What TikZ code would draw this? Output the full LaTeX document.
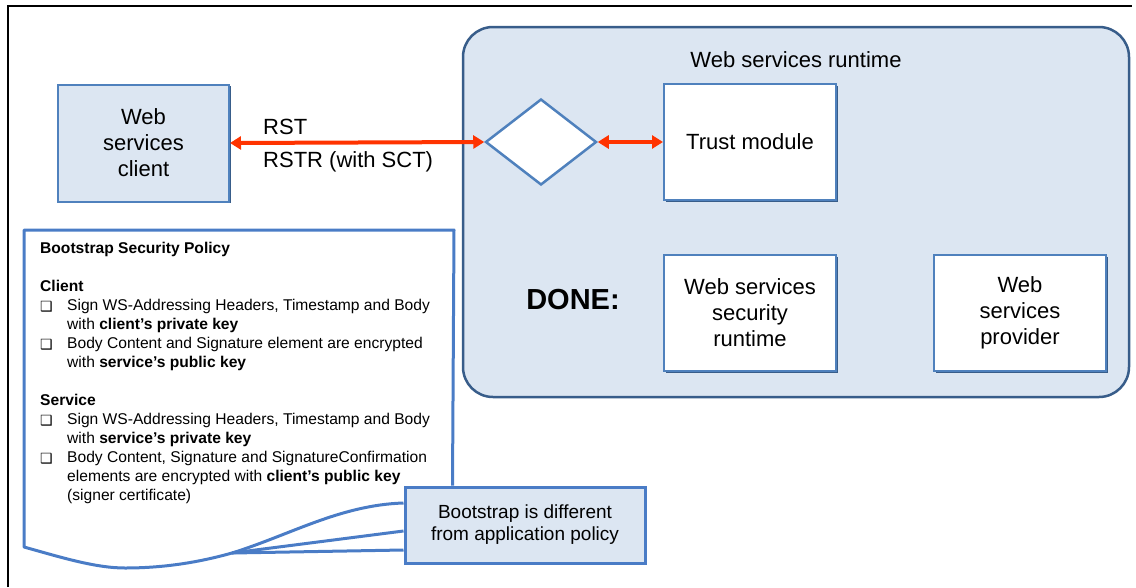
\documentclass[tikz,border=0pt]{standalone}
\usepackage{fontspec}
\setmainfont{Liberation Sans}
\newfontfamily\symfont{DejaVu Sans}
\usetikzlibrary{arrows.meta,shapes.geometric,shadows,backgrounds}

\definecolor{boxfill}{HTML}{DCE6F2}
\definecolor{boxline}{HTML}{4F81BD}
\definecolor{boxshade}{HTML}{385D8A}
\definecolor{polline}{HTML}{4A7CC6}
\definecolor{msgred}{HTML}{FF3300}

\newcommand{\chk}{\makebox[27pt][l]{\raisebox{-0.5pt}{\symfont\fontsize{14}{14}\selectfont ❑}}}
\newcommand{\ind}{\hspace*{27pt}}

\tikzset{
  compbox/.style={draw=boxline, line width=2pt, fill=white, minimum width=172pt,
    minimum height=116pt, align=center, font=\fontsize{22}{26}\selectfont,
    drop shadow={shadow xshift=1.5pt, shadow yshift=-1.5pt, fill=boxshade, opacity=1}},
  msg/.style={draw=msgred, line width=4pt,
    {Triangle[length=11pt,width=13pt]}-{Triangle[length=11pt,width=13pt]}},
  polstroke/.style={draw=polline, line width=3pt, line join=round}
}

\begin{document}
\begin{tikzpicture}[x=1pt,y=-1pt]

    \useasboundingbox (0,0) rectangle (1136,587);

    % Frame
    \draw[line width=1.5pt] (8,587) -- (8,6) -- (1132,6);

    % Runtime container
    \node[draw=boxshade, line width=2.5pt, fill=boxfill, rounded corners=30pt,
          minimum width=666pt, minimum height=370pt] (runtime) at (796,212) {};
    \node[font=\fontsize{22}{26}\selectfont] (rtlabel) at (796,60) {Web services runtime};

    % Client
    \node[compbox, fill=boxfill, minimum width=171pt, minimum height=117pt] (client) at (143.5,143) {Web\\services\\client};

    % Gate and modules
    \node[diamond, draw=boxline, line width=2.5pt, fill=white, inner sep=0pt,
          minimum width=111pt, minimum height=86pt] (gate) at (541,142) {};
    \node[compbox] (trust) at (750,142) {Trust module};
    \node[compbox] (secrt) at (750,313) {Web services\\security\\runtime};
    \node[compbox] (provider) at (1020,313) {Web\\services\\provider};

    \node[font=\fontsize{29}{32}\selectfont\bfseries] (done) at (573,300) {DONE:};

    % Messages
    \draw[msg] (client.east) -- (gate.west);
    \draw[msg] (gate.east) -- (trust.west);
    \node[anchor=west, inner sep=0pt, font=\fontsize{22}{26}\selectfont] (rst) at (263,127) {RST};
    \node[anchor=west, inner sep=0pt, font=\fontsize{22}{26}\selectfont] (rstr) at (263,162) {RSTR (with SCT)};

    % Policy text
    \node[anchor=north west, inner sep=0pt, align=left, font=\fontsize{15.6}{19}\selectfont] (policy) at (40,242) {%
        \textbf{Bootstrap Security Policy}\\[19pt]
        \textbf{Client}\\
        \chk Sign WS-Addressing Headers, Timestamp and Body\\
        \ind with \textbf{client's private key}\\
        \chk Body Content and Signature element are encrypted\\
        \ind with \textbf{service's public key}\\[19pt]
        \textbf{Service}\\
        \chk Sign WS-Addressing Headers, Timestamp and Body\\
        \ind with \textbf{service's private key}\\
        \chk Body Content, Signature and SignatureConfirmation\\
        \ind elements are encrypted with \textbf{client's public key}\\
        \ind (signer certificate)};

    % Callout
    \node[draw=polline, line width=3pt, fill=boxfill, minimum width=240pt, minimum height=76pt,
          align=center, font=\fontsize{19}{22}\selectfont] (callout) at (525,525)
          {Bootstrap is different\\from application policy};
    \coordinate (tip) at (232,553);

    \begin{scope}[on background layer]
    \draw[polstroke] ([xshift=49pt]callout.north west) -- (454,230) -- (24,230) -- (24,547)
        .. controls (60,557) and (95,568) .. (125,568)
        .. controls (165,568) and (200,562) .. (tip)
        .. controls (290,535) and (340,505) .. ([yshift=22pt]callout.west);
    \draw[polstroke] (tip) -- ([yshift=-6pt]callout.west);
    \draw[polstroke] (tip) -- ([yshift=-25pt]callout.west);
    \end{scope}

\end{tikzpicture}
\end{document}
